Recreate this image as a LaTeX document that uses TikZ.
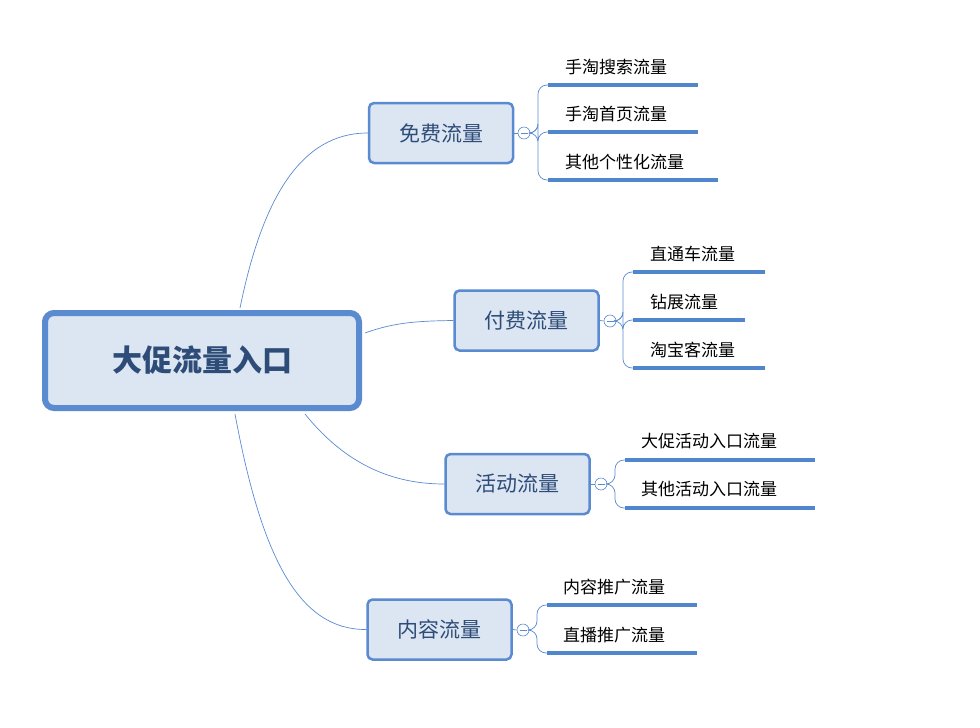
\documentclass[tikz,border=0pt]{standalone}
\usepackage{fontspec}
\setmainfont{Noto Sans CJK SC}
\definecolor{bd}{HTML}{5A8ACF}
\definecolor{fl}{HTML}{DCE5F2}
\definecolor{tx}{HTML}{2E4C78}
\definecolor{ln}{HTML}{4F86CC}
\tikzset{
 rootbox/.style={draw=bd,line width=6pt,fill=fl,rounded corners=9pt,minimum width=314pt,minimum height=95pt,font=\fontsize{30}{30}\selectfont\bfseries,text=tx},
 midbox/.style={draw=bd,line width=2.5pt,fill=fl,rounded corners=5pt,minimum width=144pt,minimum height=60pt,font=\fontsize{21}{21}\selectfont,text=tx},
 knob/.style={circle,draw=bd,fill=white,line width=0.6pt,minimum size=12pt,inner sep=0pt},
 leaf/.style={anchor=west,font=\fontsize{17}{17}\selectfont,text=black,inner sep=0pt},
 uline/.style={ln,line width=3.5pt},
 conn/.style={bd,line width=0.7pt},
 thin/.style={bd,line width=0.7pt,rounded corners=9pt}
}
\begin{document}
\begin{tikzpicture}[x=1pt,y=-1pt]
\useasboundingbox (0,0) rectangle (980,728);
\node[rootbox] (root) at (202,360.5) {大促流量入口};
\node[midbox] (b1) at (441,133) {免费流量};
\node[midbox] (b2) at (526.5,320.5) {付费流量};
\node[midbox] (b3) at (517.5,484) {活动流量};
\node[midbox] (b4) at (439.5,629.5) {内容流量};
\draw[conn] (240,308) .. controls (262,200) and (300,133) .. (b1.west);
\draw[conn] (365,333) .. controls (395,322) and (420,321) .. (b2.west);
\draw[conn] (305,414) .. controls (350,470) and (400,484) .. (b3.west);
\draw[conn] (235,414) .. controls (262,560) and (300,630) .. (b4.west);
% knobs
\node[knob] (k1) at (524,133) {};
\node[knob] (k2) at (610,321) {};
\node[knob] (k3) at (601,484) {};
\node[knob] (k4) at (523,630) {};
\foreach \k in {k1,k2,k3,k4}{\draw[bd,line width=0.6pt] ([xshift=-3.5pt]\k.center) -- ([xshift=3.5pt]\k.center);}
\draw[conn] (b1.east) -- (k1.west); \draw[conn] (b2.east) -- (k2.west);
\draw[conn] (b3.east) -- (k3.west); \draw[conn] (b4.east) -- (k4.west);
% leaves group 1
\foreach \n/\y/\xe/\t in {a1/85/698/手淘搜索流量,a2/132/698/手淘首页流量,a3/180/718/其他个性化流量}{
 \coordinate (\n s) at (548,\y); \coordinate (\n e) at (\xe,\y);
 \node[leaf] (\n) at (565,\y-18) {\t};
 \draw[uline] (\n s) -- (\n e);
 \draw[thin] (k1.east) -- (538,133) -- (538,\y) -- (\n s);
}
\foreach \n/\y/\xe/\t in {c1/272/765/直通车流量,c2/320/745/钻展流量,c3/368/765/淘宝客流量}{
 \coordinate (\n s) at (633,\y); \coordinate (\n e) at (\xe,\y);
 \node[leaf] (\n) at (650,\y-18) {\t};
 \draw[uline] (\n s) -- (\n e);
 \draw[thin] (k2.east) -- (623,321) -- (623,\y) -- (\n s);
}
\foreach \n/\y/\xe/\t in {d1/460/815/大促活动入口流量,d2/508/815/其他活动入口流量}{
 \coordinate (\n s) at (625,\y); \coordinate (\n e) at (\xe,\y);
 \node[leaf] (\n) at (641,\y-19) {\t};
 \draw[uline] (\n s) -- (\n e);
 \draw[thin] (k3.east) -- (615,484) -- (615,\y) -- (\n s);
}
\foreach \n/\y/\xe/\t in {e1/605/697/内容推广流量,e2/653/697/直播推广流量}{
 \coordinate (\n s) at (547,\y); \coordinate (\n e) at (\xe,\y);
 \node[leaf] (\n) at (563,\y-18) {\t};
 \draw[uline] (\n s) -- (\n e);
 \draw[thin] (k4.east) -- (537,630) -- (537,\y) -- (\n s);
}
\end{tikzpicture}
\end{document}
